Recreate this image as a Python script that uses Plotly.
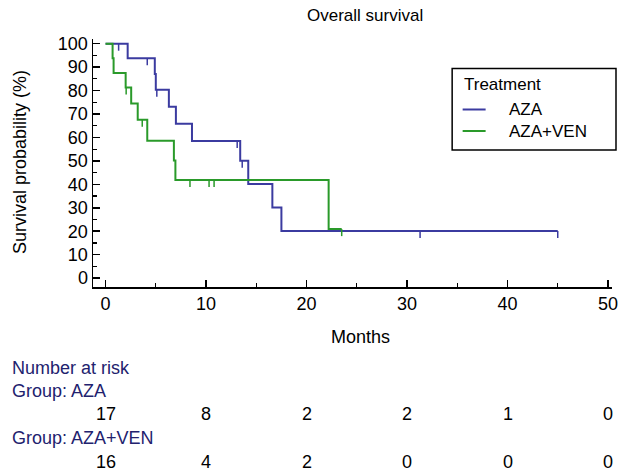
import plotly.graph_objects as go

# ---- data ----
aza_times = [0, 2.2, 4.9, 5.0, 6.3, 7.0, 8.6, 13.4, 14.2, 16.6, 17.5, 45.0]
aza_surv = [100, 93.8, 87.1, 80.4, 73.1, 65.8, 58.5, 50.1, 40.1, 30.1, 20.1, 20.1]
aza_cens_t = [1.3, 4.15, 5.1, 13.1, 13.6, 31.3, 45.0]
aza_cens_s = [100, 93.8, 80.4, 58.5, 50.1, 20.1, 20.1]

ven_times = [0, 0.7, 0.8, 2.0, 2.55, 3.2, 4.15, 6.8, 6.95, 22.2, 23.5]
ven_surv = [100, 93.8, 87.5, 81.3, 74.5, 67.6, 58.6, 50.2, 41.9, 20.9, 20.9]
ven_cens_t = [2.05, 3.65, 8.4, 10.3, 10.8, 23.5]
ven_cens_s = [81.3, 67.6, 41.9, 41.9, 41.9, 20.9]

risk_times = [0, 10, 20, 30, 40, 50]
risk_aza = [17, 8, 2, 2, 1, 0]
risk_ven = [16, 4, 2, 0, 0, 0]

x_ticks = [0, 10, 20, 30, 40, 50]
y_ticks = list(range(0, 101, 10))

group_names = ["AZA", "AZA+VEN"]

BLUE = "#3b3ba0"
GREEN = "#2a9a2a"
NAVY = "#22226e"
FONT = "Liberation Sans, Arial, sans-serif"
FS = 18
CENS_LEN = 3.0  # censor tick length in % units


def censor_segments(ts, ss):
    xs, ys = [], []
    for t, s in zip(ts, ss):
        xs += [t, t, None]
        ys += [s, s - CENS_LEN, None]
    return xs, ys


fig = go.Figure()
fig.add_trace(go.Scatter(x=aza_times, y=aza_surv, mode="lines", line=dict(color=BLUE, width=2, shape="hv"),
                         name=group_names[0], showlegend=False))
cx, cy = censor_segments(aza_cens_t, aza_cens_s)
fig.add_trace(go.Scatter(x=cx, y=cy, mode="lines", line=dict(color=BLUE, width=1.5), showlegend=False,
                         hoverinfo="skip"))
fig.add_trace(go.Scatter(x=ven_times, y=ven_surv, mode="lines", line=dict(color=GREEN, width=2, shape="hv"),
                         name=group_names[1], showlegend=False))
cx, cy = censor_segments(ven_cens_t, ven_cens_s)
fig.add_trace(go.Scatter(x=cx, y=cy, mode="lines", line=dict(color=GREEN, width=1.5), showlegend=False,
                         hoverinfo="skip"))

PLOT_TOP, PLOT_BOTTOM = 39, 287
L, R = 93, 612.5


def py(px):
    return (PLOT_BOTTOM - px) / (PLOT_BOTTOM - PLOT_TOP)


def pxp(px):
    return (px - L) / (R - L)


annotations = []
shapes = []
rows = [("Number at risk", 368, NAVY, None), ("Group: " + group_names[0], 391, NAVY, None),
        (None, 414, "black", risk_aza), ("Group: " + group_names[1], 438, NAVY, None),
        (None, 462, "black", risk_ven)]
for label, ypix, col, vals in rows:
    if label:
        annotations.append(dict(text=label, x=pxp(10), xref="paper", xanchor="left", y=py(ypix), yref="paper",
                                yanchor="middle", showarrow=False, font=dict(color=col, size=FS, family=FONT)))
    else:
        for t, v in zip(risk_times, vals):
            annotations.append(dict(text=str(v), x=t, xref="x", xanchor="center", y=py(ypix), yref="paper",
                                    yanchor="middle", showarrow=False, font=dict(color=col, size=FS, family=FONT)))

annotations.append(dict(text="Months", x=pxp(361), xref="paper", xanchor="center", y=py(337), yref="paper",
                        yanchor="middle", showarrow=False, font=dict(color="black", size=FS, family=FONT)))
annotations.append(dict(text="Overall survival", x=pxp(365), xref="paper", xanchor="center", y=py(15),
                        yref="paper", yanchor="middle", showarrow=False,
                        font=dict(color="black", size=17, family=FONT)))
annotations.append(dict(text="Survival probability (%)", x=pxp(20), xref="paper", xanchor="center",
                        y=py(162), yref="paper", yanchor="middle", textangle=-90, showarrow=False,
                        font=dict(color="black", size=FS, family=FONT)))

# legend box (drawn as layout decoration)
shapes.append(dict(type="rect", xref="paper", yref="paper", x0=pxp(452.5), x1=pxp(616.5), y0=py(150),
                   y1=py(68.5), line=dict(color="black", width=1.5), fillcolor="white", layer="above"))
annotations.append(dict(text="Treatment", x=pxp(462), xref="paper", xanchor="left", y=py(85), yref="paper",
                        yanchor="middle", showarrow=False, font=dict(color="black", size=17, family=FONT)))
for name, col, ypix in [(group_names[0], BLUE, 109.5), (group_names[1], GREEN, 131)]:
    shapes.append(dict(type="line", xref="paper", yref="paper", x0=pxp(463), x1=pxp(486), y0=py(ypix),
                       y1=py(ypix), line=dict(color=col, width=2), layer="above"))
    annotations.append(dict(text=name, x=pxp(507), xref="paper", xanchor="left", y=py(ypix), yref="paper",
                            yanchor="middle", showarrow=False, font=dict(color="black", size=17, family=FONT)))

fig.update_layout(
    width=618, height=474,
    margin=dict(l=L, r=618 - R, t=PLOT_TOP, b=474 - PLOT_BOTTOM, autoexpand=False),
    paper_bgcolor="white", plot_bgcolor="white",
    font=dict(family=FONT, size=FS, color="black"),
    showlegend=False,
    annotations=annotations,
    shapes=shapes,
    xaxis=dict(range=[-1.25, 50.4], tickvals=x_ticks, ticks="inside", ticklen=7, tickwidth=1.5, tickcolor="black",
               showline=True, linecolor="black", linewidth=1.5, showgrid=False, zeroline=False, automargin=False,
               minor=dict(ticks="inside", ticklen=4, tickwidth=1.2, dtick=5, tick0=0, tickcolor="black"),
               tickfont=dict(size=FS), fixedrange=True),
    yaxis=dict(range=[-3.8, 102], tickvals=y_ticks, ticks="inside", ticklen=7, tickwidth=1.5, tickcolor="black",
               showline=True, linecolor="black", linewidth=1.5, showgrid=False, zeroline=False, automargin=False,
               minor=dict(ticks="inside", ticklen=4, tickwidth=1.2, dtick=5, tick0=0, tickcolor="black"),
               tickfont=dict(size=FS), fixedrange=True),
)

fig.write_html("out.html", config={"displayModeBar": False, "staticPlot": True})

# remove the browser's default page margin so the figure sits at the window's corner
with open("out.html", encoding="utf-8") as f:
    html = f.read()
html = html.replace("<head>", "<head><style>html,body{margin:0;padding:0;overflow:hidden;}</style>", 1)
with open("out.html", "w", encoding="utf-8") as f:
    f.write(html)
